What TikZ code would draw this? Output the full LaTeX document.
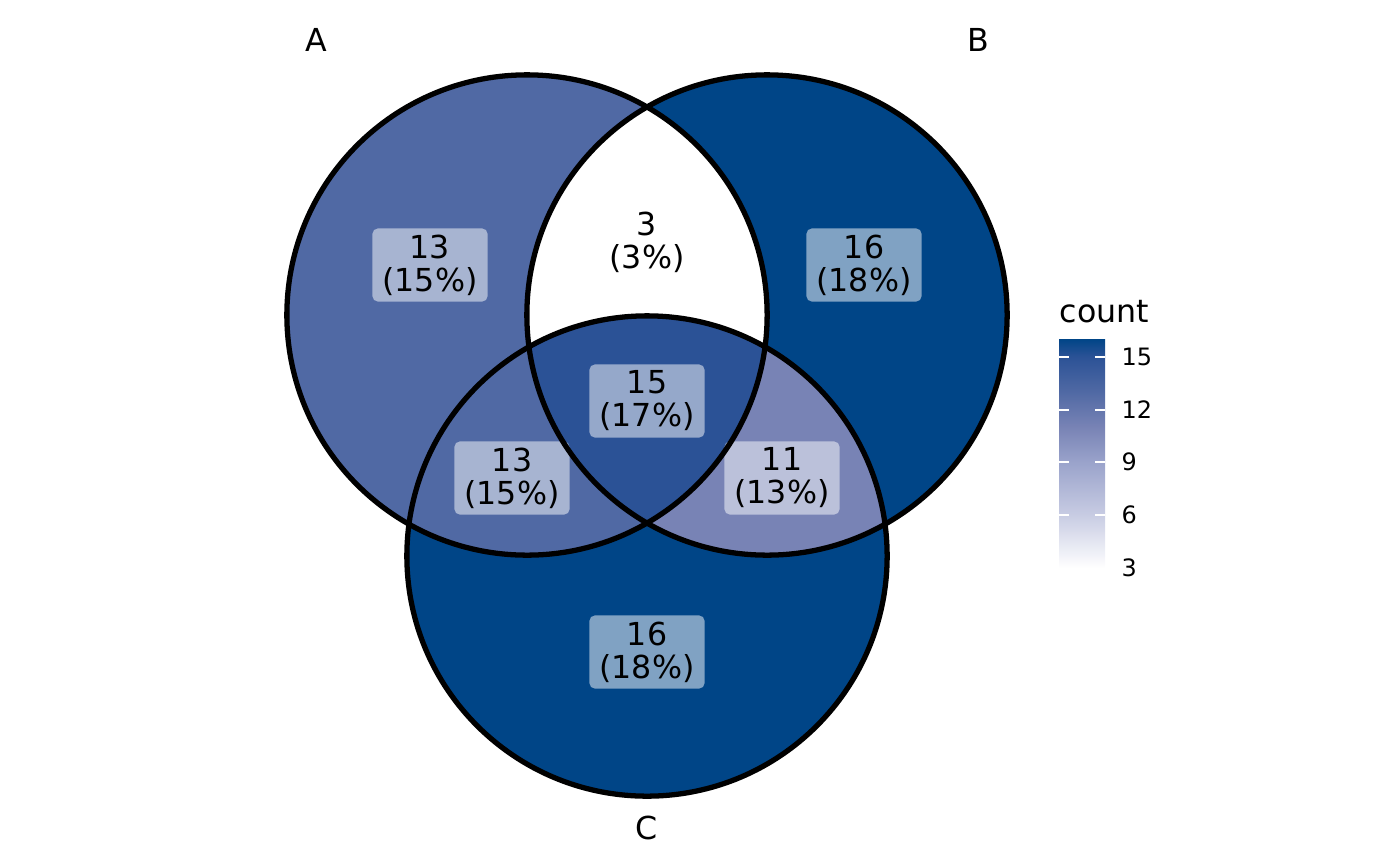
\documentclass[tikz,border=0pt]{standalone}
\usepackage{fontspec}
\setmainfont{DejaVu Sans}
\usepackage{xcolor}
\usepackage{tikz}

\definecolor{cnt16}{HTML}{004587}
\definecolor{cnt15}{HTML}{2B5296}
\definecolor{cnt13}{HTML}{5069A4}
\definecolor{cnt11}{HTML}{7883B5}
\definecolor{cnt9}{HTML}{9AA3CB}
\definecolor{cnt6}{HTML}{C8CCE3}

\pgfdeclareverticalshading{countbar}{100bp}{color(0bp)=(white); color(25bp)=(white);
  color(36.54bp)=(cnt6); color(48.08bp)=(cnt9); color(55.77bp)=(cnt11);
  color(63.46bp)=(cnt13); color(71.15bp)=(cnt15); color(75bp)=(cnt16); color(100bp)=(cnt16)}

\tikzset{
  setline/.style={line width=1.5pt,draw=black},
  setname/.style={font=\fontsize{9}{10}\selectfont},
  regionlabel/.style={fill=white,fill opacity=0.5,text opacity=1,rounded corners=1.5pt,
    align=center,minimum width=1.15cm,minimum height=0.73cm,inner sep=0pt,
    font=\fontsize{9}{9.4}\selectfont},
  legendtick/.style={draw=white,line width=0.4pt},
  ticklabel/.style={anchor=west,inner sep=0pt,font=\fontsize{6.8}{8}\selectfont}
}

\begin{document}
\begin{tikzpicture}[x=0.01cm,y=-0.01cm]
\useasboundingbox (0,0) rectangle (1400,866);
\coordinate (cA) at (527,315);
\coordinate (cB) at (767,315);
\coordinate (cC) at (647,556);

% region fills
\fill[cnt13] (cA) circle (2.4cm);
\fill[cnt16] (cB) circle (2.4cm);
\fill[cnt16] (cC) circle (2.4cm);
\begin{scope}
  \clip (cA) circle (2.4cm);
  \fill[white] (cB) circle (2.4cm);
  \fill[cnt13] (cC) circle (2.4cm);
\end{scope}
\begin{scope}
  \clip (cB) circle (2.4cm);
  \fill[cnt11] (cC) circle (2.4cm);
\end{scope}
\begin{scope}
  \clip (cA) circle (2.4cm);
  \clip (cB) circle (2.4cm);
  \fill[cnt15] (cC) circle (2.4cm);
\end{scope}

% counts
\node[regionlabel] (rA)   at (430,265) {13\\(15\%)};
\node[regionlabel] (rB)   at (864,265) {16\\(18\%)};
\node[regionlabel,fill opacity=0] (rAB) at (647,242) {3\\(3\%)};
\node[regionlabel] (rAC)  at (512,478) {13\\(15\%)};
\node[regionlabel] (rABC) at (647,401) {15\\(17\%)};
\node[regionlabel] (rBC)  at (782,478) {11\\(13\%)};
\node[regionlabel] (rC)   at (647,652) {16\\(18\%)};

% outlines
\draw[setline] (cA) circle (2.4cm);
\draw[setline] (cB) circle (2.4cm);
\draw[setline] (cC) circle (2.4cm);

\node[setname] (nA) at (316,40) {A};
\node[setname] (nB) at (978,40) {B};
\node[setname] (nC) at (647,828) {C};

% legend
\node[setname,anchor=west,inner sep=0pt] (legtitle) at (1059,312) {count};
\shade[shading=countbar] (1059,339) rectangle (1105,568);
\foreach \v/\yy in {15/357,12/410,9/462,6/515}{
  \draw[legendtick] (1059,\yy) -- (1069,\yy);
  \draw[legendtick] (1095,\yy) -- (1105,\yy);
  \node[ticklabel] (t\v) at (1121,\yy) {\v};
}
\node[ticklabel] (t3) at (1121,568) {3};
\end{tikzpicture}
\end{document}
